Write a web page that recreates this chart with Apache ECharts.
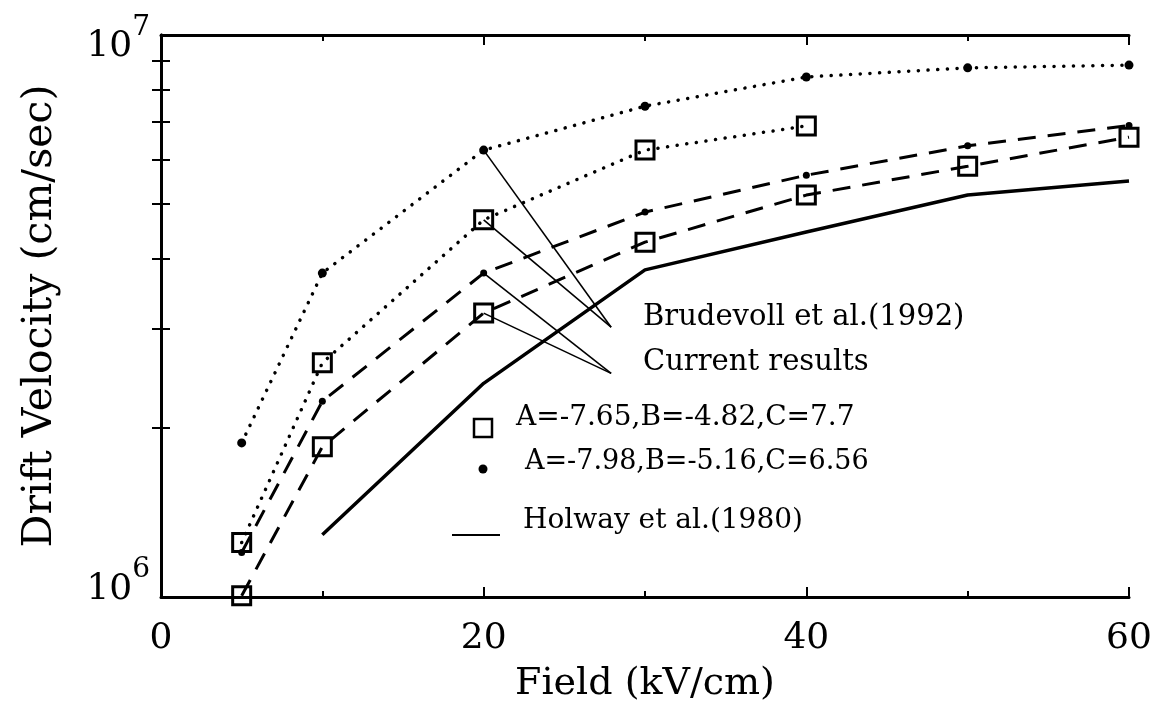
<!DOCTYPE html>
<html><head><meta charset="utf-8">
<script src="https://cdn.jsdelivr.net/npm/echarts@6/dist/echarts.min.js"></script>
<style>html,body{margin:0;padding:0;background:#fff}#c{width:1166px;height:702px}</style>
</head><body><div id="c"></div>
<script>
const FONT = 'DejaVu Serif';

// axis ticks
const xTickStep = 20;
const yLabelValues = [1e6, 1e7];
const yMinorTickValues = [2e6, 3e6, 4e6, 5e6, 6e6, 7e6, 8e6, 9e6];

// Brudevoll et al. (1992) — dotted lines
const brudDotField = [5, 10, 20, 30, 40, 50, 60];
const brudDotVel   = [1.88e6, 3.77e6, 6.24e6, 7.47e6, 8.42e6, 8.74e6, 8.84e6];
const brudSqField  = [5, 10, 20, 30, 40];
const brudSqVel    = [1.25e6, 2.61e6, 4.69e6, 6.24e6, 6.89e6];

// Current results — dashed lines
const curDotField = [5, 10, 20, 30, 40, 50, 60];
const curDotVel   = [1.20e6, 2.23e6, 3.77e6, 4.84e6, 5.63e6, 6.35e6, 6.90e6];
const curSqField  = [5, 10, 20, 30, 40, 50, 60];
const curSqVel    = [1.005e6, 1.85e6, 3.20e6, 4.28e6, 5.19e6, 5.84e6, 6.58e6];

// Holway et al. (1980) — solid line
const holField = [10, 20, 30, 40, 50, 60];
const holVel   = [1.29e6, 2.40e6, 3.82e6, 4.46e6, 5.19e6, 5.50e6];

// annotation pointer lines (from curve point to label)
const ptrFromField = [20, 20, 20, 20];
const ptrFromVel   = [6.24e6, 4.69e6, 3.77e6, 3.20e6];
const ptrToField   = [27.9, 27.9, 27.9, 27.9];
const ptrToVel     = [3.02e6, 3.02e6, 2.50e6, 2.50e6];

const legendTexts = ['Brudevoll et al.(1992)', 'Current results', 'A=-7.65,B=-4.82,C=7.7', 'A=-7.98,B=-5.16,C=6.56', 'Holway et al.(1980)'];

const pair = (xs, ys) => xs.map((x, i) => [x, ys[i]]);

const dotted = { color: '#000', width: 3.5, type: [0.1, 9.6], cap: 'round' };
const dashed = { color: '#000', width: 3, type: [18, 12] };

const series = [
  { type: 'line', data: pair(brudDotField, brudDotVel), lineStyle: dotted,
    symbol: 'circle', symbolSize: 9, itemStyle: { color: '#000' } },
  { type: 'line', data: pair(brudSqField, brudSqVel), lineStyle: dotted,
    symbol: 'rect', symbolSize: 18, itemStyle: { color: 'rgba(0,0,0,0)', borderColor: '#000', borderWidth: 3 } },
  { type: 'line', data: pair(curDotField, curDotVel), lineStyle: dashed,
    symbol: 'circle', symbolSize: 7, itemStyle: { color: '#000' } },
  { type: 'line', data: pair(curSqField, curSqVel), lineStyle: dashed,
    symbol: 'rect', symbolSize: 18, itemStyle: { color: 'rgba(0,0,0,0)', borderColor: '#000', borderWidth: 3 } },
  { type: 'line', data: pair(holField, holVel), lineStyle: { color: '#000', width: 3.5 },
    symbol: 'none' }
];
ptrFromField.forEach((f, i) => {
  series.push({ type: 'line', silent: true, symbol: 'none',
    data: [[f, ptrFromVel[i]], [ptrToField[i], ptrToVel[i]]],
    lineStyle: { color: '#000', width: 1.6 } });
});

const axLine = { lineStyle: { color: '#000', width: 3 } };
const tickStyle = { color: '#000', width: 2 };

const xBase = {
  type: 'value', min: 0, max: 60, interval: xTickStep,
  axisLine: axLine,
  axisTick: { inside: true, length: 10, lineStyle: tickStyle },
  minorTick: { show: true, splitNumber: 2, length: 6, lineStyle: tickStyle },
  splitLine: { show: false }, minorSplitLine: { show: false }
};
const yBase = {
  type: 'log', logBase: 10, min: 1e6, max: 1e7,
  axisLine: axLine,
  axisTick: { inside: true, length: 9, lineStyle: tickStyle, customValues: yMinorTickValues },
  splitLine: { show: false }
};

const option = {
  animation: false,
  backgroundColor: '#fff',
  grid: { left: 161, right: 37, top: 35, bottom: 105, containLabel: false, outerBoundsMode: 'none' },
  xAxis: [
    Object.assign({}, xBase, {
      position: 'bottom',
      axisLabel: { fontFamily: FONT, fontSize: 36, color: '#000', margin: 24 },
      name: 'Field (kV/cm)', nameLocation: 'middle', nameGap: 68,
      nameTextStyle: { fontFamily: FONT, fontSize: 38, color: '#000' }
    }),
    Object.assign({}, xBase, { position: 'top', axisLabel: { show: false } })
  ],
  yAxis: [
    Object.assign({}, yBase, {
      position: 'left',
      axisLabel: {
        customValues: yLabelValues, margin: 11, color: '#000', fontFamily: FONT,
        formatter: v => v > 5e6 ? '{b7|10}{s7|7}' : '{b6|10}{s6|6}',
        rich: {
          b7: { fontFamily: FONT, fontSize: 36, height: 36, verticalAlign: 'top', padding: [24, 0, 0, 0], color: '#000' },
          s7: { fontFamily: FONT, fontSize: 28, height: 28, verticalAlign: 'top', padding: [9, 0, 0, 0], color: '#000' },
          b6: { fontFamily: FONT, fontSize: 36, height: 36, verticalAlign: 'top', padding: [16, 0, 30, 0], color: '#000' },
          s6: { fontFamily: FONT, fontSize: 28, height: 28, verticalAlign: 'top', color: '#000' }
        }
      },
      name: 'Drift Velocity (cm/sec)', nameLocation: 'middle', nameRotate: 90, nameGap: 100,
      nameTextStyle: { fontFamily: FONT, fontSize: 41, color: '#000' }
    }),
    Object.assign({}, yBase, { position: 'right', axisLabel: { show: false } })
  ],
  series: series,
  graphic: [
    { type: 'text', x: 643, y: 317, style: { text: legendTexts[0], font: '29px "DejaVu Serif"', fill: '#000', verticalAlign: 'middle' } },
    { type: 'text', x: 643, y: 362, style: { text: legendTexts[1], font: '29px "DejaVu Serif"', fill: '#000', verticalAlign: 'middle' } },
    { type: 'rect', shape: { x: 474, y: 419, width: 18, height: 18 }, style: { fill: 'none', stroke: '#000', lineWidth: 2.5 } },
    { type: 'text', x: 516, y: 418, style: { text: legendTexts[2], font: '28px "DejaVu Serif"', fill: '#000', verticalAlign: 'middle' } },
    { type: 'circle', shape: { cx: 483, cy: 469, r: 4.5 }, style: { fill: '#000' } },
    { type: 'text', x: 525, y: 462, style: { text: legendTexts[3], font: '27px "DejaVu Serif"', fill: '#000', verticalAlign: 'middle' } },
    { type: 'line', shape: { x1: 452, y1: 535, x2: 500, y2: 535 }, style: { stroke: '#000', lineWidth: 2 } },
    { type: 'text', x: 523, y: 521, style: { text: legendTexts[4], font: '28px "DejaVu Serif"', fill: '#000', verticalAlign: 'middle' } }
  ]
};

const chart = echarts.init(document.getElementById('c'), null, { renderer: 'canvas' });
chart.setOption(option);
</script>
</body></html>
